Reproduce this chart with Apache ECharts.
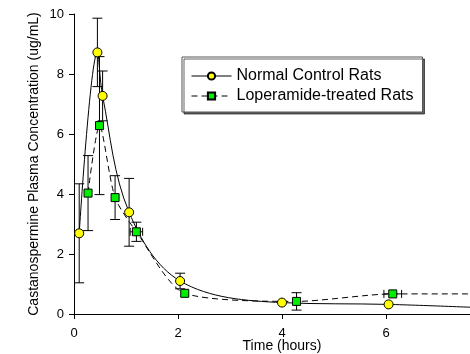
<!DOCTYPE html>
<html>
<head>
<meta charset="utf-8">
<script src="https://cdn.jsdelivr.net/npm/echarts@6/dist/echarts.min.js"></script>
<style>
html,body{margin:0;padding:0;background:#fff;}
#c{width:470px;height:354px;}
</style>
</head>
<body>
<div id="c"></div>
<script>
// Data
var seriesNames = ['Normal Control Rats', 'Loperamide-treated Rats'];
var timeNormal = [0.1, 0.45, 0.55, 1.06, 2.04, 4.0, 6.05, 8.0];
var concNormal = [2.69, 8.72, 7.27, 3.39, 1.10, 0.38, 0.32, 0.20];
var errNormal  = [1.65, 1.14, 0.83, 1.13, 0.26, 0, 0, 0];
var xerrNormal = [0, 0, 0, 0, 0, 0, 0, 0];

var timeLop = [0.27, 0.49, 0.79, 1.2, 2.13, 4.28, 6.13, 8.0];
var concLop = [4.03, 6.28, 3.88, 2.74, 0.69, 0.42, 0.67, 0.67];
var errLop  = [1.25, 2.30, 0.73, 0.32, 0, 0.29, 0, 0];
var xerrLop = [0, 0, 0, 0.12, 0, 0, 0.17, 0];

var FONT = 'Liberation Sans, Arial, sans-serif';

function pairs(xs, ys){ return xs.map(function(x,i){ return [x, ys[i]]; }); }
function errRows(xs, ys, ey, ex){ return xs.map(function(x,i){ return [x, ys[i], ey[i], ex[i]]; }); }

function renderErr(params, api){
  var x = api.value(0), y = api.value(1), ey = api.value(2), ex = api.value(3);
  var children = [];
  var st = {stroke:'#000', lineWidth:1, fill:null};
  var cap = 5;
  function ln(x1,y1,x2,y2){ children.push({type:'line', shape:{x1:x1,y1:y1,x2:x2,y2:y2}, style:st}); }
  if (ey > 0){
    var t = api.coord([x, y+ey]), b = api.coord([x, y-ey]);
    ln(t[0], t[1], b[0], b[1]);
    ln(t[0]-cap, t[1], t[0]+cap, t[1]);
    ln(b[0]-cap, b[1], b[0]+cap, b[1]);
  }
  if (ex > 0){
    var l = api.coord([x-ex, y]), r = api.coord([x+ex, y]);
    ln(l[0], l[1], r[0], r[1]);
    ln(l[0], l[1]-4, l[0], l[1]+4);
    ln(r[0], r[1]-4, r[0], r[1]+4);
  }
  return {type:'group', children:children};
}

var chart = echarts.init(document.getElementById('c'), null, {renderer:'canvas'});
chart.setOption({
  animation:false,
  backgroundColor:'#fff',
  grid:{left:74, top:14, height:300, width:416, outerBoundsMode:'none', containLabel:false},
  legend:{
    data:seriesNames,
    orient:'vertical',
    left:182, top:57,
    itemWidth:40, itemHeight:9, itemGap:4,
    padding:[11,9,8,9],
    backgroundColor:'#fff',
    borderColor:'#555', borderWidth:1,
    shadowColor:'rgba(0,0,0,0.6)', shadowOffsetX:2, shadowOffsetY:2, shadowBlur:0,
    lineStyle:{width:1},
    textStyle:{fontFamily:FONT, fontSize:16, color:'#000', lineHeight:16}
  },
  xAxis:{
    type:'value', min:0, max:8, interval:2,
    name:'Time (hours)', nameLocation:'middle', nameGap:25, nameMoveOverlap:false,
    nameTextStyle:{fontFamily:FONT, fontSize:14, color:'#000'},
    axisLine:{show:true, onZero:false, lineStyle:{color:'#000', width:1}},
    axisTick:{show:true, length:5, lineStyle:{color:'#000'}},
    axisLabel:{fontFamily:FONT, fontSize:13, color:'#000', margin:13},
    splitLine:{show:false}
  },
  yAxis:{
    type:'value', min:0, max:10, interval:2,
    name:'Castanospermine Plasma Concentration (ug/mL)', nameLocation:'middle', nameGap:33, nameMoveOverlap:false,
    nameTextStyle:{fontFamily:FONT, fontSize:14, color:'#000'},
    axisLine:{show:true, lineStyle:{color:'#000', width:1}},
    axisTick:{show:true, length:5, lineStyle:{color:'#000'}},
    axisLabel:{fontFamily:FONT, fontSize:13, color:'#000', margin:10},
    splitLine:{show:false}
  },
  series:[
    {type:'custom', name:'errN', renderItem:renderErr, data:errRows(timeNormal, concNormal, errNormal, xerrNormal), encode:{x:0,y:1}, z:1, silent:true},
    {type:'custom', name:'errL', renderItem:renderErr, data:errRows(timeLop, concLop, errLop, xerrLop), encode:{x:0,y:1}, z:1, silent:true},
    {
      type:'line', name:seriesNames[0], data:pairs(timeNormal, concNormal),
      smooth:0.35,
      symbol:'circle', symbolSize:9,
      lineStyle:{color:'#000', width:1, type:'solid'},
      itemStyle:{color:'#ffff00', borderColor:'#000', borderWidth:1},
      z:3
    },
    {
      type:'line', name:seriesNames[1], data:pairs(timeLop, concLop),
      smooth:0.25,
      symbol:'rect', symbolSize:8,
      lineStyle:{color:'#000', width:1, type:[6,4]},
      itemStyle:{color:'#00ee00', borderColor:'#000', borderWidth:1},
      z:3
    }
  ]
});
</script>
</body>
</html>
